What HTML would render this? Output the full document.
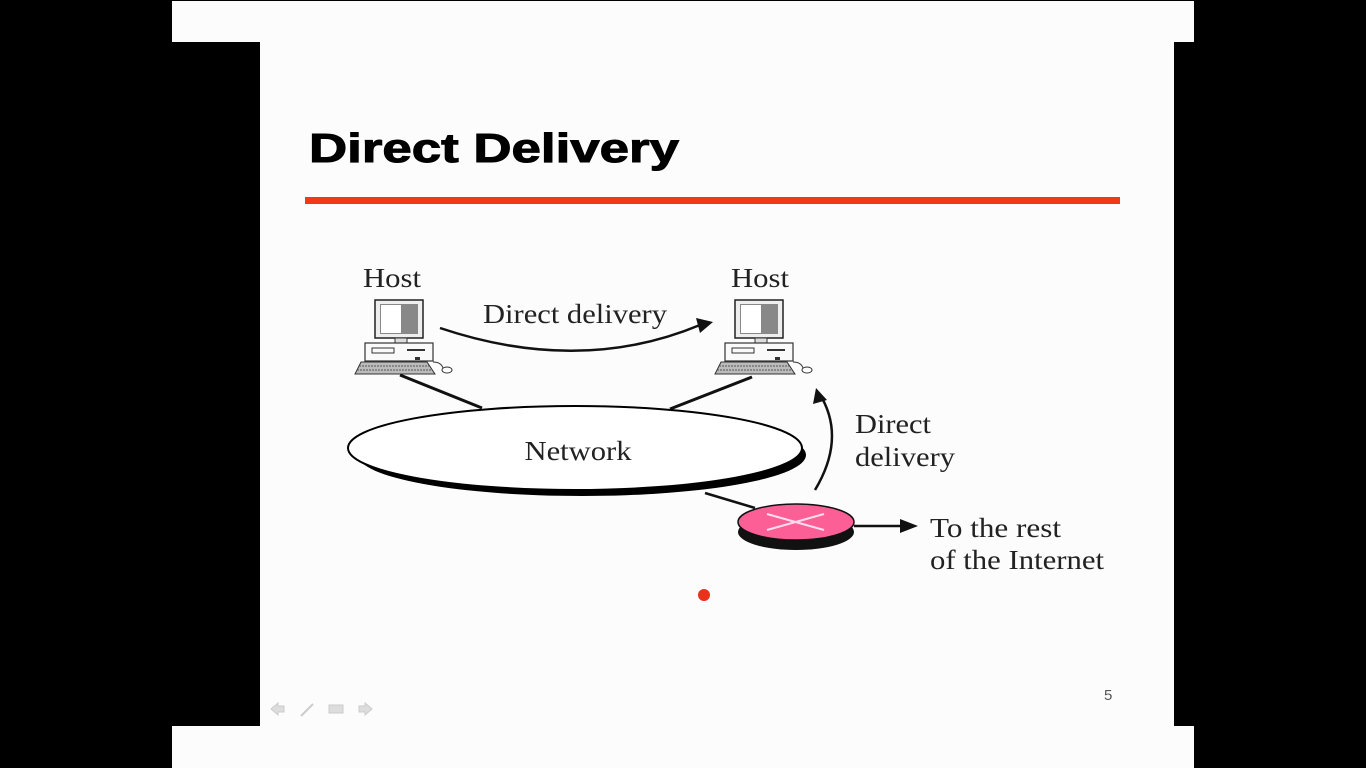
<!DOCTYPE html>
<html><head><style>
html,body{margin:0;padding:0;background:#000;width:1366px;height:768px;overflow:hidden}
svg{display:block}
</style></head><body>
<svg width="1366" height="768" xmlns="http://www.w3.org/2000/svg">
<defs>
<g id="pc">
  <rect x="20" y="0" width="48" height="38" fill="#eee" stroke="#222" stroke-width="1.5"/>
  <rect x="25" y="4" width="38" height="30" fill="#888"/>
  <rect x="26" y="5" width="20" height="28" fill="#fff"/>
  <rect x="40" y="38" width="12" height="5" fill="#ddd" stroke="#333"/>
  <rect x="10" y="43" width="68" height="18" fill="#fafafa" stroke="#333" stroke-width="1.2"/>
  <rect x="17" y="48" width="22" height="5" fill="none" stroke="#333"/>
  <line x1="52" y1="50" x2="70" y2="50" stroke="#333" stroke-width="2"/>
  <rect x="60" y="57" width="5" height="3" fill="#333"/>
  <path d="M6 62 H72 L80 74 H0 Z" fill="#bbb" stroke="#333"/>
  <path d="M4 66 H74 M2 70 H77" stroke="#555" stroke-width="1" stroke-dasharray="2 1"/>
  <path d="M78 62 q8 0 10 6" fill="none" stroke="#333"/>
  <ellipse cx="92" cy="70" rx="5" ry="3" fill="#fff" stroke="#333"/>
</g>
</defs>
<rect x="172" y="1" width="1022" height="41" fill="#fdfcfd"/>
<rect x="260" y="42" width="914" height="684" fill="#fdfcfd"/>
<rect x="172" y="726" width="1022" height="42" fill="#fdfcfd"/>
<text x="309" y="162" textLength="370" lengthAdjust="spacingAndGlyphs" font-family="Liberation Sans, sans-serif" font-weight="bold" font-size="41" fill="#000" stroke="#000" stroke-width="1">Direct Delivery</text>
<rect x="305" y="197" width="815" height="7" fill="#f03a17"/>

<g font-family="Liberation Serif, serif" font-size="27" fill="#222">
<text x="363" y="287" textLength="58" lengthAdjust="spacingAndGlyphs">Host</text>
<text x="731" y="287" textLength="58" lengthAdjust="spacingAndGlyphs">Host</text>
<text x="483" y="323" textLength="184" lengthAdjust="spacingAndGlyphs">Direct delivery</text>
<text x="855" y="433" textLength="76" lengthAdjust="spacingAndGlyphs">Direct</text>
<text x="855" y="466" textLength="100" lengthAdjust="spacingAndGlyphs">delivery</text>
<text x="930" y="537" textLength="131" lengthAdjust="spacingAndGlyphs">To the rest</text>
<text x="930" y="569" textLength="174" lengthAdjust="spacingAndGlyphs">of the Internet</text>
</g>

<use href="#pc" x="355" y="300"/>
<use href="#pc" x="715" y="300"/>

<line x1="400" y1="375" x2="482" y2="408" stroke="#111" stroke-width="3"/>
<line x1="752" y1="377" x2="670" y2="409" stroke="#111" stroke-width="3"/>
<line x1="705" y1="493" x2="755" y2="508" stroke="#111" stroke-width="2.5"/>

<ellipse cx="582" cy="455" rx="224" ry="41" fill="#000"/>
<ellipse cx="575" cy="448" rx="227" ry="42" fill="#fff" stroke="#000" stroke-width="2"/>
<text x="578" y="460" text-anchor="middle" textLength="107" lengthAdjust="spacingAndGlyphs" font-family="Liberation Serif, serif" font-size="27" fill="#222">Network</text>

<path d="M440 328 Q580 375 700 325" fill="none" stroke="#111" stroke-width="2.5"/>
<path d="M713 322 L696 318 L700 333 Z" fill="#111"/>

<path d="M815 490 Q845 440 822 398" fill="none" stroke="#111" stroke-width="2.5"/>
<path d="M816 388 L813 404 L827 400 Z" fill="#111"/>

<ellipse cx="796" cy="532" rx="58" ry="18" fill="#111"/>
<ellipse cx="796" cy="522" rx="58" ry="18" fill="#fc5f95" stroke="#111" stroke-width="1.5"/>
<path d="M767 514 L824 530 M767 530 L824 514" stroke="#fde" stroke-width="2"/>
<line x1="854" y1="526" x2="905" y2="526" stroke="#111" stroke-width="2.5"/>
<path d="M918 526 L900 519 L900 533 Z" fill="#111"/>

<circle cx="704" cy="595" r="6" fill="#e8321a"/>
<text x="1104" y="700" font-family="Liberation Sans, sans-serif" font-size="15" fill="#555">5</text>
<g fill="#ddd" stroke="#ccc">
<path d="M271 709 l7 -6 v3 h6 v6 h-6 v3 z"/>
<line x1="301" y1="716" x2="313" y2="704" stroke-width="2"/>
<rect x="329" y="705" width="14" height="8"/>
<path d="M372 709 l-7 -6 v3 h-6 v6 h6 v3 z"/>
</g>
</svg>
</body></html>
